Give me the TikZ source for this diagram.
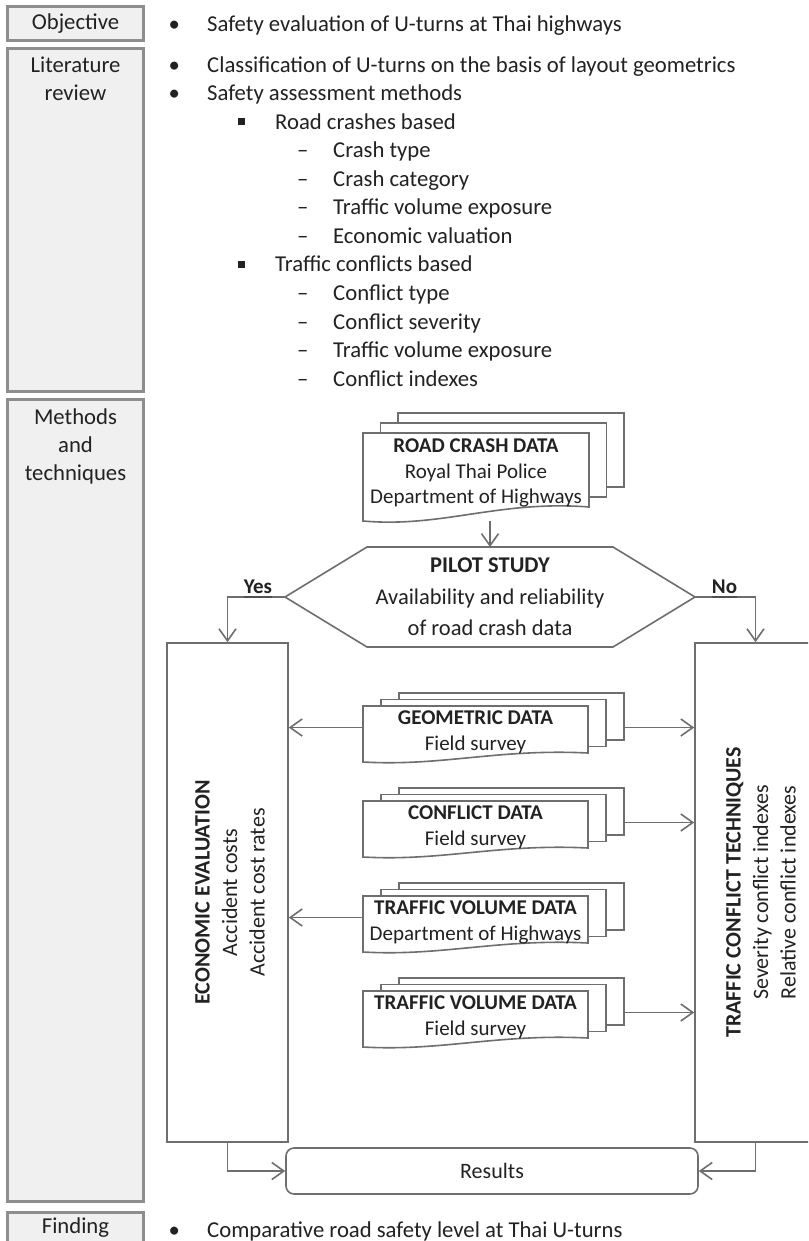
\documentclass[tikz,border=0pt]{standalone}
\usepackage{fontspec}
\setmainfont{Carlito}
\usetikzlibrary{arrows.meta,calc}
\definecolor{boxline}{HTML}{8E8E8E}
\definecolor{boxfill}{HTML}{F0F0F0}
\definecolor{cline}{HTML}{6E6E6E}
\definecolor{ulcol}{HTML}{505050}
\definecolor{txt}{HTML}{222222}
\tikzset{
  side/.style={draw=boxline, fill=boxfill, line width=3.3},
  sidelabel/.style={font=\fontsize{22.7}{28}\selectfont, text=txt, align=center, inner sep=0},
  listtext/.style={font=\fontsize{22.7}{28}\selectfont, text=txt, inner sep=0, anchor=base west},
  docline/.style={draw=cline, line width=1.6, fill=white},
  doctext/.style={font=\fontsize{21}{25.5}\selectfont, text=txt, align=center, inner sep=0},
  hextext/.style={font=\fontsize{22.5}{31.5}\selectfont, text=txt, align=center, inner sep=0},
  bigbox/.style={draw=cline, line width=1.6, fill=white, inner sep=0, minimum width=121, minimum height=499},
  rottext/.style={font=\fontsize{22}{27.5}\selectfont, text=txt, align=center, inner sep=0, rotate=90},
  conn/.style={draw=cline, line width=1.6, -{Straight Barb[length=12pt,width=17pt]}},
  yeslabel/.style={font=\fontsize{21}{25}\selectfont\bfseries, text=txt, inner xsep=0, inner ysep=3},
  resbox/.style={draw=cline, line width=1.6, rounded corners=8, fill=white, inner sep=0,
     minimum width=412, minimum height=46, font=\fontsize{22}{26}\selectfont, text=txt},
}
% multidocument: name, L, T, w, h, dx, dy, wave, text
\newcommand{\mdoc}[9]{%
  \draw[docline] ({#2+2*#6},{#3-2*#7}) rectangle ++(#4,#5);
  \draw[docline] ({#2+#6},{#3-#7}) rectangle ++(#4,#5);
  \draw[docline] (#2,#3) -- ++(#4,0) -- ++(0,#5)
     .. controls ({#2+0.6*#4},{#3+#5-0.5*#8}) and ({#2+0.35*#4},{#3+#5+1.5*#8}) .. (#2,{#3+#5+#8}) -- cycle;
  \node[doctext] (#1-t) at ({#2+0.5*#4},{#3+0.5*#5+3}) {#9};
  \node[inner sep=0, minimum width={#4+2*#6}, minimum height={#5+#8+2*#7}] (#1)
     at ({#2+0.5*#4+#6},{#3-2*#7+0.5*(#5+#8+2*#7)}) {};
}
\newcommand{\bul}[3]{%
  \node[listtext] (#1b) at (168.5,{#2+7.5}) {•};
  \node[listtext] (#1) at (207,{#2+7.5}) {#3};}
\newcommand{\sqb}[3]{%
  \fill[txt] (238,{#2-3.5}) rectangle ++(7,7);
  \node[listtext] (#1) at (275,{#2+7.5}) {#3};}
\newcommand{\dsh}[3]{%
  \node[listtext] (#1b) at (297,{#2+7.5}) {–};
  \node[listtext] (#1) at (333,{#2+7.5}) {#3};}

\begin{document}
\begin{tikzpicture}[x=1pt,y=-1pt]
\useasboundingbox (0,0) rectangle (808,1241);
\fill[white] (0,0) rectangle (808,1241);
\clip (0,0) rectangle (808,1241);

% left column
\draw[side] (7.6,6.6) rectangle (143.4,40.4);
\draw[side] (7.6,48.6) rectangle (143.4,391.4);
\draw[side] (7.6,399.6) rectangle (143.4,1201.4);
\draw[side] (7.6,1212.6) rectangle (143.4,1260);
\node[sidelabel] (objl) at (75.5,24) {Objective};
\node[sidelabel] (litl) at (75.5,79) {Literature\\review};
\node[sidelabel] (metl) at (75.5,446) {Methods\\and\\techniques};
\node[sidelabel] (finl) at (75.5,1228) {Finding};

% lists
\bul{o1}{24}{Safety evaluation of U-turns at Thai highways}
\bul{l1}{65}{Classification of U-turns on the basis of layout geometrics}
\bul{l2}{93.5}{Safety assessment methods}
\sqb{l3}{122}{Road crashes based}
\dsh{l4}{150.5}{Crash type}
\dsh{l5}{179}{Crash category}
\dsh{l6}{207.5}{Traffic volume exposure}
\dsh{l7}{236}{Economic valuation}
\sqb{l8}{264.5}{Traffic conflicts based}
\dsh{l9}{293}{Conflict type}
\dsh{l10}{321.5}{Conflict severity}
\dsh{l11}{350}{Traffic volume exposure}
\dsh{l12}{378.5}{Conflict indexes}
\bul{f1}{1230}{Comparative road safety level at Thai U-turns}

% road crash data
\mdoc{rcd}{363}{433}{226}{74}{17.5}{10}{14}{\textbf{ROAD CRASH DATA}\\Royal Thai Police\\Department of Highways}

% pilot study hexagon
\coordinate (hexL) at (285,597);
\coordinate (hexR) at (695,597);
\coordinate (hextop) at (490,547);
\draw[docline] (hexL) -- (367,547) -- (hextop) -- (613,547) -- (hexR) -- (613,647) -- (367,647) -- cycle;
\node[hextext] (pilot) at (490,597) {\textbf{PILOT STUDY}\\Availability and reliability\\of road crash data};
\draw[conn] (pilot.center |- rcd.south) -- (hextop);

% big boxes
\node[bigbox] (econ) at (227.5,892.5) {};
\node[rottext] (econt) at (230,892.5) {\textbf{ECONOMIC EVALUATION}\\Accident costs\\Accident cost rates};
\node[bigbox] (tct) at (755.5,892.5) {};
\node[rottext] (tctt) at (761,892.5) {\textbf{TRAFFIC CONFLICT TECHNIQUES}\\Severity conflict indexes\\Relative conflict indexes};

% yes / no
\draw[conn] (hexL) -- (econ.north |- hexL) -- (econ.north);
\draw[conn] (hexR) -- (tct.north |- hexR) -- (tct.north);
\node[yeslabel, anchor=south] (yes) at (258,597) {Yes};
\draw[ulcol, line width=2.5] (yes.south west) -- (yes.south east);
\node[yeslabel, anchor=south] (no) at (724.5,597) {No};
\draw[ulcol, line width=2.5] (no.south west) -- (no.south east);

% data stacks
\mdoc{geo}{363}{706}{225}{47}{18}{6.5}{9}{\textbf{GEOMETRIC DATA}\\Field survey}
\mdoc{conf}{363}{801}{225}{47}{18}{6.5}{9}{\textbf{CONFLICT DATA}\\Field survey}
\mdoc{tvda}{363}{896}{225}{47}{18}{6.5}{9}{\textbf{TRAFFIC VOLUME DATA}\\Department of Highways}
\mdoc{tvdb}{363}{991}{225}{47}{18}{6.5}{9}{\textbf{TRAFFIC VOLUME DATA}\\Field survey}

\draw[conn] (geo.west) -- (econ.east |- geo.west);
\draw[conn] (geo.east) -- (tct.west |- geo.east);
\draw[conn] (conf.east) -- (tct.west |- conf.east);
\draw[conn] (tvda.west) -- (econ.east |- tvda.west);
\draw[conn] (tvdb.east) -- (tct.west |- tvdb.east);

% results
\node[resbox] (res) at (492,1171) {Results};
\draw[conn] (econ.south) -- (econ.south |- res.west) -- (res.west);
\draw[conn] (tct.south) -- (tct.south |- res.east) -- (res.east);
\end{tikzpicture}
\end{document}
